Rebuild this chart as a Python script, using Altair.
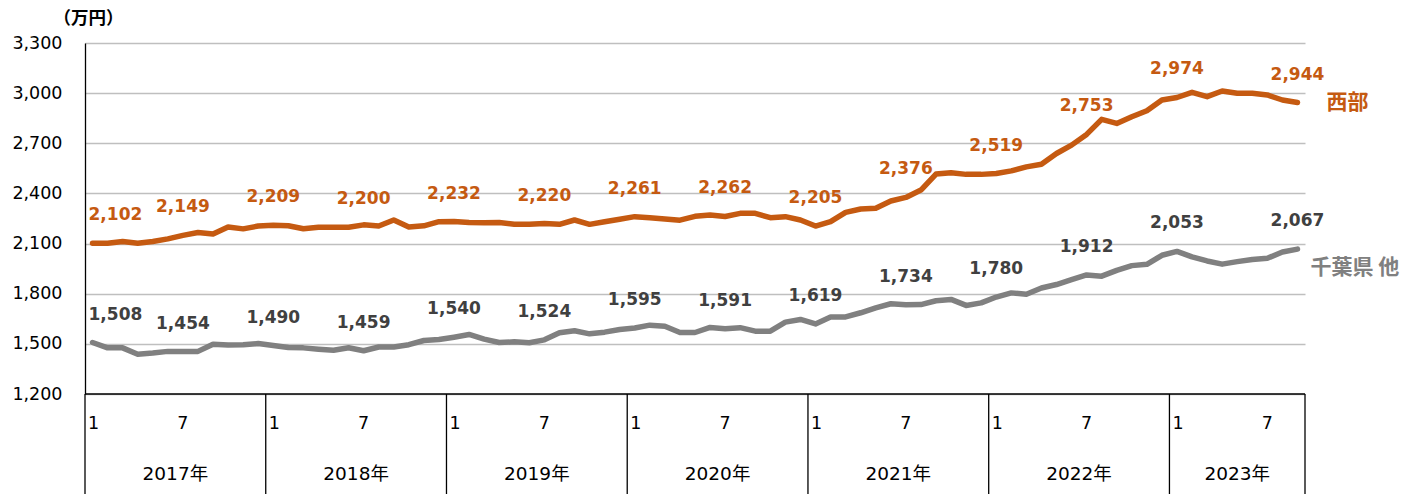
import altair as alt
import pandas as pd

# ---------------- data ----------------
years = ["2017年", "2018年", "2019年", "2020年", "2021年", "2022年", "2023年"]
months_per_year = [12, 12, 12, 12, 12, 12, 9]
series_names = ["西部", "千葉県 他"]

west = [2102, 2102, 2112, 2102, 2112, 2128, 2149, 2166, 2157, 2199, 2188, 2205,
        2209, 2207, 2189, 2198, 2198, 2198, 2212, 2205, 2241, 2199, 2206, 2231,
        2232, 2226, 2225, 2226, 2215, 2215, 2220, 2215, 2241, 2215, 2231, 2245,
        2261, 2255, 2247, 2240, 2263, 2271, 2262, 2281, 2281, 2255, 2261, 2241,
        2205, 2231, 2287, 2307, 2311, 2355, 2376, 2420, 2516, 2524, 2514, 2514,
        2519, 2535, 2559, 2575, 2639, 2689, 2753, 2843, 2819, 2859, 2895, 2959,
        2974, 3005, 2979, 3013, 2999, 2999, 2989, 2959, 2944]

chiba = [1508, 1476, 1476, 1438, 1445, 1455, 1454, 1455, 1498, 1493, 1494, 1502,
         1490, 1478, 1476, 1468, 1462, 1477, 1459, 1481, 1481, 1495, 1520, 1526,
         1540, 1556, 1528, 1508, 1512, 1507, 1524, 1566, 1578, 1560, 1570, 1586,
         1595, 1612, 1605, 1568, 1568, 1598, 1591, 1597, 1576, 1576, 1630, 1646,
         1619, 1660, 1661, 1686, 1715, 1740, 1734, 1735, 1758, 1766, 1730, 1745,
         1780, 1805, 1797, 1834, 1855, 1884, 1912, 1905, 1940, 1968, 1976, 2030,
         2053, 2020, 1996, 1977, 1992, 2005, 2012, 2050, 2067]

label_idx = [0, 6, 12, 18, 24, 30, 36, 42, 48, 54, 60, 66, 72, 80]
west_labels = [2102, 2149, 2209, 2200, 2232, 2220, 2261, 2262, 2205, 2376, 2519, 2753, 2974, 2944]
chiba_labels = [1508, 1454, 1490, 1459, 1540, 1524, 1595, 1591, 1619, 1734, 1780, 1912, 2053, 2067]

y_ticks = [1200, 1500, 1800, 2100, 2400, 2700, 3000, 3300]
y_title = "（万円）"

# ---------------- styling ----------------
ORANGE = "#C55A11"
GRAY = "#808080"
DARK = "#404040"
NUM_FONT = "DejaVu Sans"
CJK_FONT = "Noto Sans CJK JP"
W, H = 1220, 351

n = len(west)
idx = list(range(n))
df_w = pd.DataFrame({"i": idx, "v": west})
df_c = pd.DataFrame({"i": idx, "v": chiba})

xs = alt.Scale(domain=[-0.5, n - 0.5], nice=False, zero=False)
ys = alt.Scale(domain=[y_ticks[0], y_ticks[-1]], nice=False, zero=False)

X = alt.X("i:Q", scale=xs, axis=None)
Y = alt.Y("v:Q", scale=ys, axis=alt.Axis(
    values=y_ticks, format=",.0f", grid=True, gridColor="#BFBFBF", gridWidth=1.3,
    domain=True, domainColor="#000000", domainWidth=1.3, ticks=False,
    labelPadding=23, labelFont=NUM_FONT, labelFontSize=17.5, labelColor="#000000",
    title=y_title, titleAngle=0, titleX=3, titleY=-25, titleAlign="center",
    titleBaseline="middle", titleFont=CJK_FONT, titleFontSize=17.5,
    titleFontWeight="bold", titleColor="#000000"))


def line(df, color):
    return alt.Chart(df).mark_line(color=color, strokeWidth=5.5, strokeJoin="round",
                                   strokeCap="round").encode(x=X, y=Y)


def labels(vals, color):
    d = pd.DataFrame({"i": label_idx, "v": vals})
    d["t"] = d["v"].map(lambda v: f"{v:,}")
    first = d.iloc[:1]
    rest = d.iloc[1:]
    common = dict(font=NUM_FONT, fontSize=17, fontWeight="bold", color=color,
                  baseline="middle", dy=-28)
    a = alt.Chart(first).mark_text(align="left", dx=-4, **common).encode(x=X, y=Y, text="t:N")
    b = alt.Chart(rest).mark_text(align="center", **common).encode(x=X, y=Y, text="t:N")
    return a + b


# series names at the right end
name_w = alt.Chart(pd.DataFrame({"i": [n - 1], "v": [west[-1]], "t": [series_names[0]]})).mark_text(
    align="left", baseline="middle", dx=29, dy=0, font=CJK_FONT, fontSize=21,
    fontWeight="bold", color=ORANGE).encode(x=X, y=Y, text="t:N")
name_c = alt.Chart(pd.DataFrame({"i": [n - 1], "v": [chiba[-1]], "t": [series_names[1]]})).mark_text(
    align="left", baseline="middle", dx=13, dy=19, font=CJK_FONT, fontSize=21,
    fontWeight="bold", color=GRAY).encode(x=X, y=Y, text="t:N")

# ---------------- category table below the plot ----------------
starts = []
s = 0
for m in months_per_year:
    starts.append(s)
    s += m
bounds = [b - 0.5 for b in starts] + [n - 0.5]
df_b = pd.DataFrame({"i": bounds})
sep = alt.Chart(df_b).mark_rule(color="#000000", strokeWidth=1.3).encode(
    x=X, y=alt.value(H), y2=alt.value(H + 100))
bottom = alt.Chart(pd.DataFrame({"i": [-0.5], "i2": [n - 0.5]})).mark_rule(
    color="#000000", strokeWidth=1.3).encode(x=X, x2="i2:Q", y=alt.value(H))

df_m1 = pd.DataFrame({"i": [st - 0.5 for st in starts], "t": ["1"] * len(starts)})
df_m7 = pd.DataFrame({"i": [st + 6 for st in starts], "t": ["7"] * len(starts)})
m1 = alt.Chart(df_m1).mark_text(align="left", baseline="middle", dx=3, font=NUM_FONT,
                                fontSize=17.5, color="#000000").encode(
    x=X, y=alt.value(H + 30), text="t:N")
m7 = alt.Chart(df_m7).mark_text(align="center", baseline="middle", font=NUM_FONT,
                                fontSize=17.5, color="#000000").encode(
    x=X, y=alt.value(H + 30), text="t:N")
df_y = pd.DataFrame({"i": [st - 0.5 + m / 2 for st, m in zip(starts, months_per_year)],
                     "t": years})
yl = alt.Chart(df_y).mark_text(align="center", baseline="middle",
                               font=f"{NUM_FONT}, {CJK_FONT}", fontSize=18.5,
                               color="#000000").encode(
    x=X, y=alt.value(H + 80), text="t:N")

chart = alt.layer(
    line(df_c, GRAY), line(df_w, ORANGE),
    sep, bottom,
    labels(west_labels, ORANGE), labels(chiba_labels, DARK),
    name_w, name_c, m1, m7, yl,
).properties(
    width=W, height=H, background="white",
    padding={"left": 85, "top": 43, "right": 121, "bottom": 100},
    autosize=alt.AutoSizeParams(type="none"),
).configure_view(stroke=None)

chart.save("out.html", embed_options={"renderer": "svg", "actions": False})
